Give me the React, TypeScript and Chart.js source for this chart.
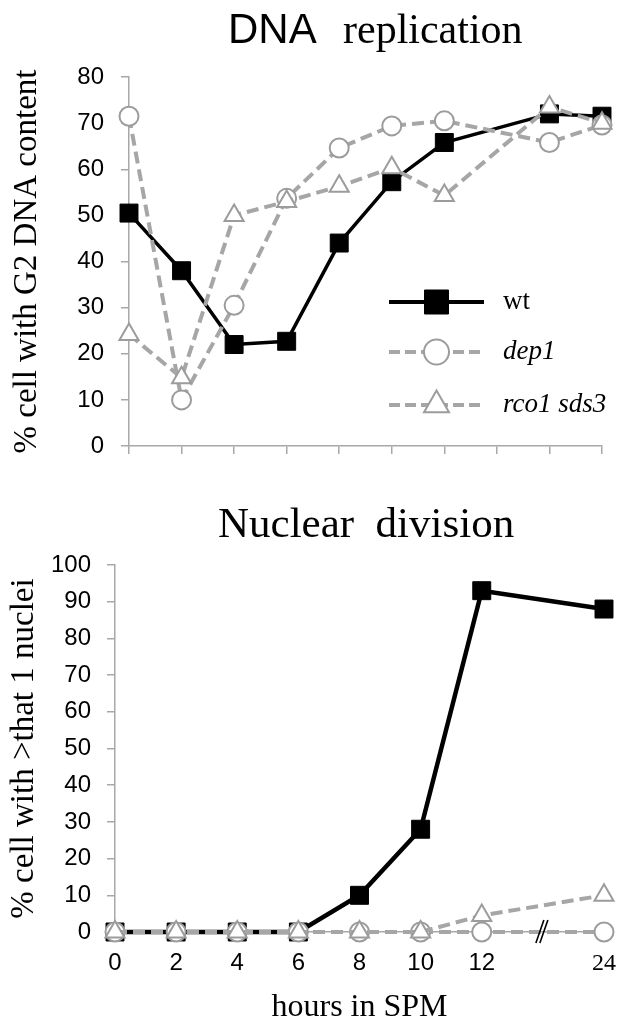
import React, { useEffect, useRef } from 'react';
import { Chart, registerables } from 'chart.js';

Chart.register(...registerables);

// ---------- data ----------
const topHours = ['0', '2', '4', '6', '8', '10', '12', '14', '16', '24'];
const topWt = [50.5, 38, 22, 22.7, 44, 57.3, 65.8, null, 72, 71.5];
const topDep1 = [71.5, 10, 30.5, 53.7, 64.6, 69.4, 70.5, null, 65.8, 69.6];
const topRco1 = [24.2, 14.8, 50, 53, 56.3, 60.3, 54.3, null, 73.5, 70];

const bottomHours = ['0', '2', '4', '6', '8', '10', '12', '', '24'];
const bottomWt = [0, 0, 0, 0, 10, 28, 93, null, 88];
const bottomDep1 = [0, 0, 0, 0, 0, 0, 0, null, 0];
const bottomRco1 = [0, 0, 0, 0, 0, 0, 4.5, null, 10];

const seriesNames = ['wt', 'dep1', 'rco1 sds3'];
const topTitle = ['DNA', 'replication'];
const bottomTitle = 'Nuclear  division';
const topYTitle = '% cell with G2 DNA content';
const bottomYTitle = '% cell with >that 1 nuclei';
const xTitle = 'hours in SPM';
const breakIndex = 7;

// ---------- styles ----------
const GRAY_LINE = '#a6a6a6';
const GRAY_MARK = '#9c9c9c';
const AXIS = '#a8a8a8';
const SANS = '"Liberation Sans", Arial, sans-serif';
const SERIF = '"Liberation Serif", "Times New Roman", serif';

const titlePlugin = {
  id: 'mixedTitle',
  afterDraw(chart: any, _args: any, opts: any) {
    if (!opts || !opts.parts) return;
    const ctx = chart.ctx;
    ctx.save();
    ctx.fillStyle = '#000';
    ctx.textBaseline = 'alphabetic';
    ctx.textAlign = 'left';
    for (const p of opts.parts) {
      ctx.font = p.font;
      ctx.fillText(p.text, p.x, opts.y);
    }
    ctx.restore();
  },
};

function drawMarker(ctx: CanvasRenderingContext2D, style: string, x: number, y: number, size: number) {
  ctx.beginPath();
  if (style === 'rect') {
    ctx.rect(x - size / 2, y - size / 2, size, size);
  } else if (style === 'circle') {
    ctx.arc(x, y, size / 2, 0, Math.PI * 2);
  } else {
    const r = size / Math.sqrt(3);
    ctx.moveTo(x, y - r);
    ctx.lineTo(x + size / 2, y + r / 2);
    ctx.lineTo(x - size / 2, y + r / 2);
    ctx.closePath();
  }
}

const legendPlugin = {
  id: 'lineLegend',
  afterDraw(chart: any, _args: any, opts: any) {
    if (!opts || !opts.items) return;
    const ctx: CanvasRenderingContext2D = chart.ctx;
    ctx.save();
    opts.items.forEach((it: any, i: number) => {
      const y = opts.ys[i];
      ctx.setLineDash(it.dash || []);
      ctx.strokeStyle = it.color;
      ctx.lineWidth = it.width;
      ctx.beginPath();
      ctx.moveTo(opts.x1, y);
      ctx.lineTo(opts.x2, y);
      ctx.stroke();
      ctx.setLineDash([]);
      const cx = (opts.x1 + opts.x2) / 2;
      drawMarker(ctx, it.marker, cx, y, it.size);
      ctx.fillStyle = it.fill;
      ctx.fill();
      ctx.strokeStyle = it.markerStroke;
      ctx.lineWidth = it.markerWidth;
      ctx.stroke();
      ctx.fillStyle = '#000';
      ctx.font = it.font;
      ctx.textBaseline = 'middle';
      ctx.textAlign = 'left';
      ctx.fillText(it.label, opts.xText, y);
    });
    ctx.restore();
  },
};

const breakPlugin = {
  id: 'axisBreak',
  afterDatasetsDraw(chart: any, _args: any, opts: any) {
    if (!opts || opts.index == null) return;
    const x = chart.scales.x.getPixelForValue(opts.index);
    const y = chart.scales.y.getPixelForValue(0);
    const ctx = chart.ctx;
    ctx.save();
    ctx.strokeStyle = '#000';
    ctx.lineWidth = 1.6;
    ctx.beginPath();
    ctx.moveTo(x - 7, y + 11);
    ctx.lineTo(x + 1, y - 12);
    ctx.moveTo(x - 3, y + 11);
    ctx.lineTo(x + 5, y - 12);
    ctx.stroke();
    ctx.restore();
  },
};

function makeDatasets(wt: any[], dep1: any[], rco1: any[], wtWidth: number) {
  return [
    {
      label: seriesNames[0],
      data: wt,
      borderColor: '#000',
      borderWidth: wtWidth,
      pointStyle: 'rect',
      pointRadius: 12.7,
      pointBackgroundColor: '#000',
      pointBorderColor: '#000',
      pointBorderWidth: 1,
      spanGaps: true,
      clip: false,
      order: 3,
      tension: 0,
    },
    {
      label: seriesNames[1],
      data: dep1,
      borderColor: GRAY_LINE,
      borderDash: [12, 6],
      borderWidth: 4,
      pointStyle: 'circle',
      pointRadius: 9.5,
      pointBackgroundColor: '#fff',
      pointBorderColor: GRAY_MARK,
      pointBorderWidth: 2,
      spanGaps: true,
      clip: false,
      order: 2,
      tension: 0,
    },
    {
      label: seriesNames[2],
      data: rco1,
      borderColor: GRAY_LINE,
      borderDash: [12, 6],
      borderWidth: 4,
      pointStyle: 'triangle',
      pointRadius: 11,
      pointBackgroundColor: '#fff',
      pointBorderColor: GRAY_MARK,
      pointBorderWidth: 2,
      spanGaps: true,
      clip: false,
      order: 1,
      tension: 0,
    },
  ];
}

function yAxis(max: number, title: string, width: number, labelPad: number, titlePad: number) {
  return {
    type: 'linear',
    min: 0,
    max,
    afterFit(scale: any) {
      scale.width = width;
    },
    ticks: {
      stepSize: 10,
      color: '#000',
      font: { family: SANS, size: 24 },
      padding: labelPad,
    },
    grid: { drawOnChartArea: false, color: AXIS, tickLength: 8, lineWidth: 1.5 },
    border: { color: AXIS, width: 1.5 },
    title: {
      display: true,
      text: title,
      color: '#000',
      font: { family: SERIF, size: 33, lineHeight: 1.2 },
      padding: { top: titlePad, bottom: 0 },
    },
  };
}

function topConfig(): any {
  return {
    type: 'line',
    data: { labels: topHours, datasets: makeDatasets(topWt, topDep1, topRco1, 3.5) },
    options: {
      responsive: false,
      animation: false,
      events: [],
      layout: { padding: { top: 77, right: 21, left: 0, bottom: 0 } },
      plugins: {
        legend: { display: false },
        tooltip: { enabled: false },
        mixedTitle: {
          y: 43,
          parts: [
            { text: topTitle[0], x: 228, font: `42px ${SANS}` },
            { text: topTitle[1], x: 343, font: `42px ${SERIF}` },
          ],
        },
        lineLegend: {
          x1: 389,
          x2: 484,
          xText: 503,
          ys: [302, 352, 405],
          items: [
            { label: seriesNames[0], color: '#000', width: 4, dash: [], marker: 'rect', size: 24, fill: '#000', markerStroke: '#000', markerWidth: 1, font: `27px ${SERIF}` },
            { label: seriesNames[1], color: GRAY_LINE, width: 4, dash: [11, 5], marker: 'circle', size: 25, fill: '#fff', markerStroke: GRAY_MARK, markerWidth: 2, font: `italic 27px ${SERIF}` },
            { label: seriesNames[2], color: GRAY_LINE, width: 4, dash: [11, 5], marker: 'triangle', size: 25, fill: '#fff', markerStroke: GRAY_MARK, markerWidth: 2, font: `italic 27px ${SERIF}` },
          ],
        },
      },
      scales: {
        x: {
          type: 'category',
          offset: false,
          afterFit(scale: any) {
            scale.height = 44;
          },
          ticks: { callback: () => '', autoSkip: false },
          grid: { drawOnChartArea: false, color: AXIS, tickLength: 8, lineWidth: 1.5 },
          border: { color: AXIS, width: 1.5 },
        },
        y: yAxis(80, topYTitle, 129, 17, 8),
      },
    },
    plugins: [titlePlugin, legendPlugin],
  };
}

function bottomConfig(): any {
  return {
    type: 'line',
    data: { labels: bottomHours, datasets: makeDatasets(bottomWt, bottomDep1, bottomRco1, 4.5) },
    options: {
      responsive: false,
      animation: false,
      events: [],
      layout: { padding: { top: 75, right: 19, left: 0, bottom: 0 } },
      plugins: {
        legend: { display: false },
        tooltip: { enabled: false },
        mixedTitle: {
          y: 47,
          parts: [{ text: bottomTitle, x: 218, font: `43px ${SERIF}` }],
        },
        axisBreak: { index: breakIndex },
      },
      scales: {
        x: {
          type: 'category',
          offset: false,
          afterFit(scale: any) {
            scale.height = 88;
          },
          ticks: {
            autoSkip: false,
            maxRotation: 0,
            color: '#000',
            padding: 0,
            font: (ctx: any) =>
              ctx.index === bottomHours.length - 1
                ? { family: SERIF, size: 24 }
                : { family: SANS, size: 24 },
          },
          grid: {
            drawOnChartArea: false,
            drawTicks: true,
            tickLength: 17,
            tickColor: 'rgba(0,0,0,0)',
            color: AXIS,
          },
          border: { color: AXIS, width: 1.5 },
          title: {
            display: true,
            text: xTitle,
            color: '#000',
            font: { family: SERIF, size: 32, lineHeight: 0.8 },
            padding: { top: 0, bottom: 0 },
          },
        },
        y: yAxis(100, bottomYTitle, 115, 16, 5),
      },
    },
    plugins: [titlePlugin, breakPlugin],
  };
}

export default function App() {
  const topRef = useRef<HTMLCanvasElement>(null);
  const botRef = useRef<HTMLCanvasElement>(null);

  useEffect(() => {
    const c1 = new Chart(topRef.current as HTMLCanvasElement, topConfig());
    const c2 = new Chart(botRef.current as HTMLCanvasElement, bottomConfig());
    return () => {
      c1.destroy();
      c2.destroy();
    };
  }, []);

  return (
    <div style={{ position: 'absolute', left: 0, top: 0, width: 623, height: 1020, background: '#fff', overflow: 'hidden' }}>
      <canvas
        ref={topRef}
        width={623}
        height={490}
        style={{ position: 'absolute', left: 0, top: 0, width: 623, height: 490 }}
      />
      <canvas
        ref={botRef}
        width={623}
        height={530}
        style={{ position: 'absolute', left: 0, top: 490, width: 623, height: 530 }}
      />
    </div>
  );
}
